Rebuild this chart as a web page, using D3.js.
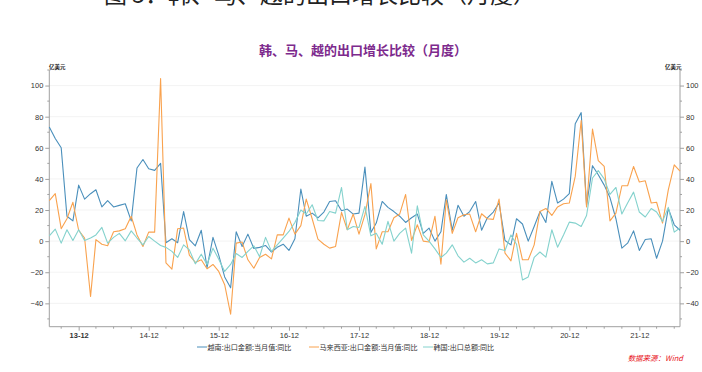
<!DOCTYPE html>
<html><head><meta charset="utf-8">
<script src="https://cdn.jsdelivr.net/npm/d3@7"></script>
<style>
body{margin:0;background:#fff;}
svg{display:block;font-family:"Liberation Sans","Noto Sans CJK SC",sans-serif;}
</style></head>
<body><svg id="c" width="702" height="372"></svg>
<script>
const startMonth = "2013-07";
const seriesNames = ["越南:出口金额:当月值:同比","马来西亚:出口金额:当月值:同比","韩国:出口总额:同比"];
const vietnam = [73.4,66,60,16,13,36,27,30.5,33,22,26,22,23,24,13,47,52.5,46.5,45.5,50,
 -1,1.5,-1,19,1,-3,7,-17,2.4,-9,-23,-30,6,-3.4,4.5,-4.7,-4,-2.8,-7,-4,
 -2,-6,1.5,33.5,16,18,15,18.7,25.5,26,19.5,20.6,17.4,18,47.6,5.6,11.6,25.5,21.7,19,
 16,12,15,17.4,5,8.4,0,6,30,7,23,16,19,25.5,7,15,18.7,24.5,0.4,-2.4,
 14.4,11,0,9.4,19,12,38.4,24.5,27,30.5,75.5,82.6,23,48.5,42.7,36,28,14.4,-4.5,-1.3,
 6.6,-6,1,1.5,-11,0,21,10.5,7];
const malaysia = [26,30.5,8,14.4,25,7,2,-35.6,1,-2,-3,6,6.6,8,16,4,-3.4,5.8,5.8,104.5,
 -14,-18,8,8.4,-9,-13.7,-12,-17.8,-15,-19.5,-28,-47,-1.3,-0.6,-12,-17.4,-10.5,-8.4,-11.4,4,
 4,14.8,4.5,10,27,14.4,1.3,-2,-4.5,-3.4,18.5,7.3,17.4,4.5,17,37,-5,6,6,15,
 17.4,30,0.4,10.5,0,-0.6,16,-14.8,26.6,5,15,17,17.4,6,17.6,14.4,14,27,-7.7,-12.7,
 5,-12,-12,-2.4,19,21,16.5,22,24,24.5,41.6,77.5,22,72,51.7,48,13,18,35.6,35.6,
 48,38,38.8,24.5,25,11.6,33,49,45];
const korea = [3.4,7.7,-1.3,7.3,0.4,7.3,0.4,2,4,8.8,-1.3,2.4,5,0.2,6.6,2,-2.4,3,0,-2.8,
 -4,-6.6,-10.5,-2.4,-5.6,-14.6,-8.4,-15,-4.5,-11.6,-19.5,-15,-8,-10.5,-6.6,-3,-10,2.4,-6.6,-2.4,
 2,6.2,12,20,17.4,23.4,13.3,13,19,18,34.5,7.3,9.4,8.8,22.3,3.4,5,-2,12.7,0,
 5,8.4,-7.7,22.7,4,0,-5,-10.5,-7.7,-2.4,-9.4,-13.5,-11,-14,-12,-14.6,-14,-5,-6,4,
 -2,-25,-23,-10.5,-7,-10.3,7.3,-3.9,4,12.2,11.6,9.4,16.5,40.6,45.3,40,30,34.5,17.4,24.5,
 31.5,18.7,15.5,21,18.7,12.7,21.7,5.8,8.4];
const yTicks = [-40,-20,0,20,40,60,80,100];
const xTickLabels = ["13-12","14-12","15-12","16-12","17-12","18-12","19-12","20-12","21-12"];
const colors = ["#4a8fbb","#f9a24e","#84d2cd"];

const svg = d3.select("#c");
const parse = d3.timeParse("%Y-%m");
const t0 = parse(startMonth);
const dates = vietnam.map((_, i) => d3.timeMonth.offset(t0, i));
const L = 49.3, R = 680, T = 70, B = 326.7;
const x = d3.scaleTime().domain([dates[0], dates[dates.length-1]]).range([L, R]);
const y = d3.scaleLinear().domain([-55, 110]).range([B, T]);

// header (cut off at the top edge, as in the reference)
svg.append("text").attr("x", 104).attr("y", 3).attr("font-size", 23)
  .attr("font-family","Noto Sans CJK SC").attr("fill","#222")
  .text("图 5：韩、马、越的出口增长比较（月度）");
// title
svg.append("text").attr("x", 363).attr("y", 55).attr("text-anchor","middle")
  .attr("font-size", 13).attr("font-weight","bold").attr("fill","#7d2a8d")
  .attr("font-family","Noto Sans CJK SC").text("韩、马、越的出口增长比较（月度）");
// units
svg.append("text").attr("x", 49).attr("y", 69).attr("font-size", 5.5).attr("font-weight","bold")
  .attr("font-family","Noto Sans CJK SC").attr("fill","#222").text("亿美元");
svg.append("text").attr("x", 665).attr("y", 69).attr("font-size", 5.5).attr("font-weight","bold")
  .attr("font-family","Noto Sans CJK SC").attr("fill","#222").text("亿美元");

// grid
svg.append("g").selectAll("line").data(yTicks).join("line")
  .attr("x1", L).attr("x2", R).attr("y1", d => y(d)).attr("y2", d => y(d))
  .attr("stroke", "#f0f0f0").attr("stroke-width", 0.8);

const axisColor = "#a0a0a0";
const gl = svg.append("g").attr("transform", `translate(${L},0)`)
  .call(d3.axisLeft(y).tickValues(yTicks).tickSize(4).tickPadding(2).tickFormat(d3.format("d")));
const gr = svg.append("g").attr("transform", `translate(${R},0)`)
  .call(d3.axisRight(y).tickValues(yTicks).tickSize(4).tickPadding(2).tickFormat(d3.format("d")));
[gl, gr].forEach(g => {
  g.select(".domain").attr("stroke", axisColor).attr("d", `M0,${T}V${B}`);
  g.selectAll(".tick line").attr("stroke", axisColor);
  g.selectAll(".tick text").attr("font-size", 7.5).attr("fill", "#333");
});
const minorY = d3.range(-50, 111, 10).filter(v => v % 20 !== 0);
svg.append("g").selectAll("line").data(minorY).join("line")
  .attr("x1", L - 2).attr("x2", L).attr("y1", d => y(d)).attr("y2", d => y(d)).attr("stroke", axisColor);
svg.append("g").selectAll("line").data(minorY).join("line")
  .attr("x1", R).attr("x2", R + 2).attr("y1", d => y(d)).attr("y2", d => y(d)).attr("stroke", axisColor);

// x axis
const decTicks = xTickLabels.map(s => d3.timeParse("%y-%m")(s));
const gx = svg.append("g").attr("transform", `translate(0,${B})`)
  .call(d3.axisBottom(x).tickValues(decTicks).tickSize(4).tickPadding(2).tickFormat(d3.timeFormat("%y-%m")));
gx.select(".domain").attr("stroke", axisColor).attr("d", `M${L},0H${R}`);
gx.selectAll(".tick line").attr("stroke", axisColor);
gx.selectAll(".tick text").attr("font-size", 7.5).attr("fill", "#333")
  .attr("font-weight", (d, i) => i === 0 ? "bold" : "normal");
const quarters = d3.timeMonth.range(dates[0], d3.timeMonth.offset(dates[dates.length-1], 1))
  .filter(d => d.getMonth() % 3 === 2 && d.getMonth() !== 11);
svg.append("g").selectAll("line").data(quarters).join("line")
  .attr("x1", d => x(d)).attr("x2", d => x(d)).attr("y1", B).attr("y2", B + 2).attr("stroke", axisColor);

// lines
const line = d3.line().x((d, i) => x(dates[i])).y(d => y(d));
[vietnam, malaysia, korea].forEach((s, k) => {
  svg.append("path").datum(s).attr("d", line).attr("fill", "none")
    .attr("stroke", colors[k]).attr("stroke-width", 1.1).attr("stroke-linejoin", "round");
});

// legend
const legX = [197, 309, 423];
seriesNames.forEach((n, k) => {
  const g = svg.append("g").attr("transform", `translate(${legX[k]},347)`);
  g.append("line").attr("x1", 0).attr("x2", 10).attr("y1", 0).attr("y2", 0)
    .attr("stroke", colors[k]).attr("stroke-width", 1);
  g.append("text").attr("x", 10.5).attr("y", 2.6).attr("font-size", 7.1)
    .attr("font-family","Noto Sans CJK SC").attr("fill", "#333").text(n);
});
// source
svg.append("text").attr("x", 683).attr("y", 361).attr("text-anchor","end")
  .attr("font-size", 7.5).attr("font-style","italic").attr("fill","#e8141c")
  .attr("font-family","Noto Sans CJK SC").text("数据来源：Wind");
</script></body></html>
